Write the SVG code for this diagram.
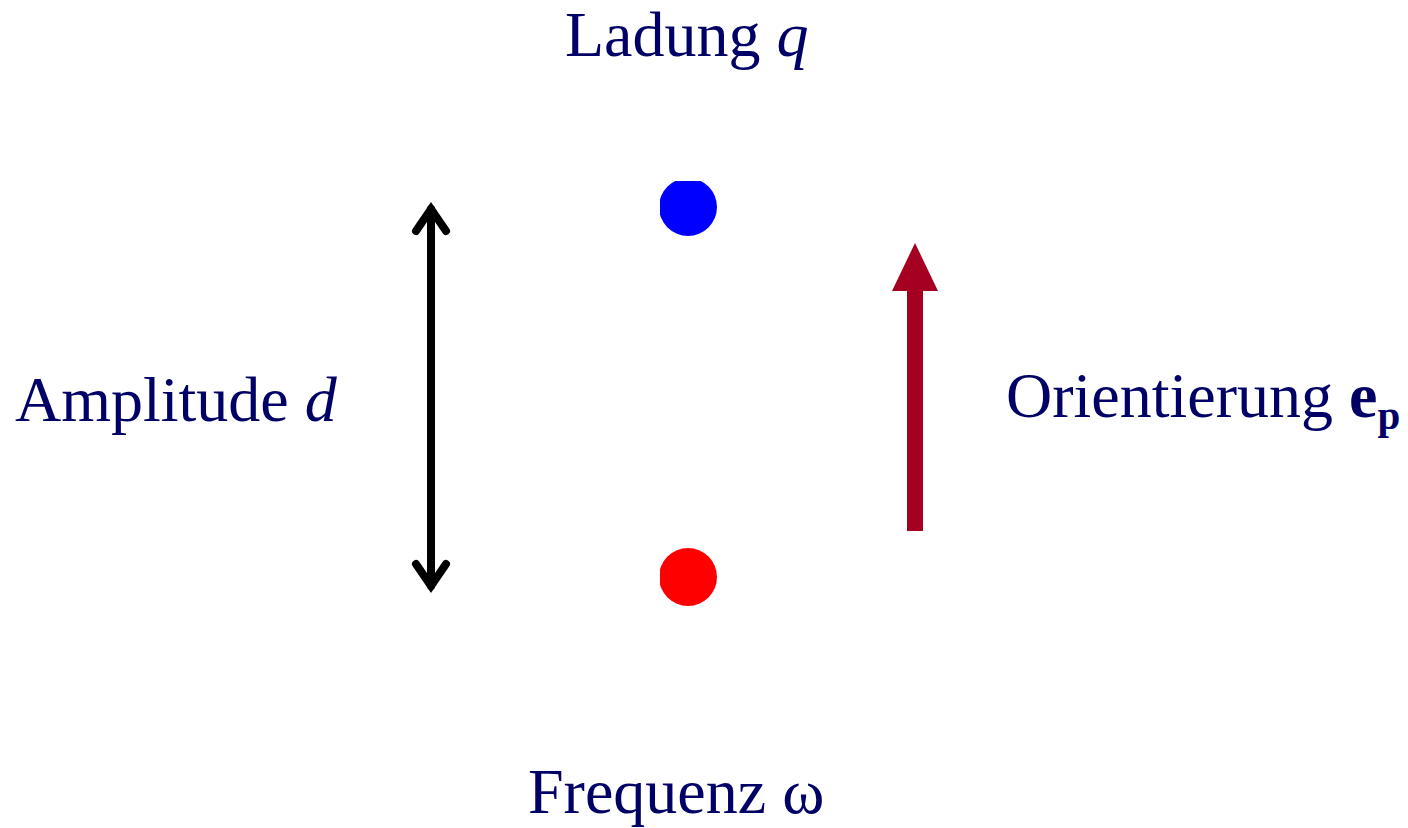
<svg xmlns="http://www.w3.org/2000/svg" width="1408" height="828" viewBox="0 0 1408 828">
<style>
.t{font-family:"Liberation Serif","Times New Roman",serif;font-size:64px;fill:#000066}
.i{font-style:italic}
.b{font-weight:bold}
</style>
<defs>
<clipPath id="clipB"><rect x="660" y="181" width="100" height="100"/></clipPath>
<clipPath id="clipR"><rect x="660" y="540" width="100" height="100"/></clipPath>
</defs>
<rect width="1408" height="828" fill="#ffffff"/>
<g id="charge-pos">
<circle cx="688" cy="207" r="29" fill="#0000ff" clip-path="url(#clipB)"/>
</g>
<g id="charge-neg">
<circle cx="688" cy="577" r="29" fill="#ff0000" clip-path="url(#clipR)"/>
</g>
<g id="connectors">
<g id="amplitude-arrow" fill="none" stroke="#000000" stroke-width="8" stroke-linecap="round" stroke-linejoin="miter">
<line x1="431" y1="209" x2="431" y2="586"/>
<polyline points="416,231 431,209 446,231"/>
<polyline points="416,564 431,586 446,564"/>
</g>
<g id="orientation-arrow" fill="#a50021">
<rect x="907" y="289" width="16" height="242"/>
<polygon points="915,243 938,291 892,291"/>
</g>
</g>
<g id="label-ladung"><text class="t" x="565" y="56">Ladung <tspan class="i">q</tspan></text></g>
<g id="label-amplitude"><text class="t" x="15" y="421">Amplitude <tspan class="i">d</tspan></text></g>
<g id="label-orientierung"><text class="t" x="1006" y="417">Orientierung <tspan class="b">e</tspan><tspan class="b" font-size="41" dy="12">p</tspan></text></g>
<g id="label-frequenz"><text class="t" x="528" y="813">Frequenz ω</text></g>
</svg>
